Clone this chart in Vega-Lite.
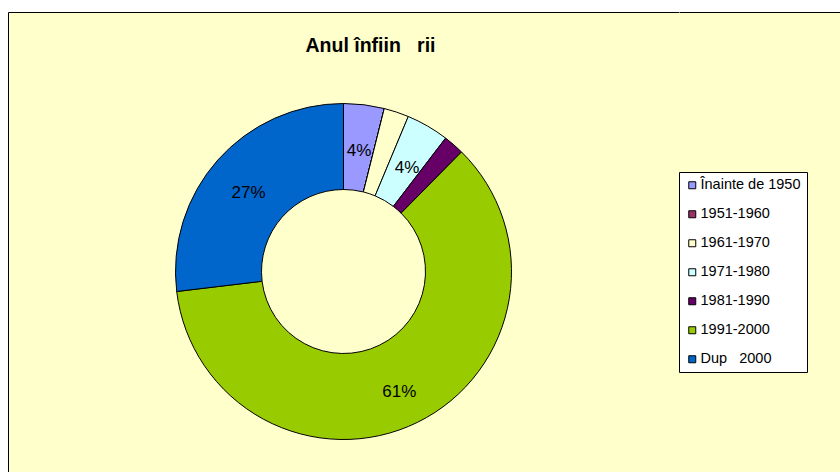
{
  "$schema": "https://vega.github.io/schema/vega-lite/v6.json",
  "background": "white",
  "padding": {"left": 7, "top": 12, "right": 0, "bottom": 0},
  "spacing": 0,
  "bounds": "flush",
  "config": {"font": "Liberation Sans", "view": {"fill": "#FFFFCC", "stroke": null}},
  "datasets": {
    "t": [
      {"perioada": "Înainte de 1950", "share": 0.039, "ord": 1},
      {"perioada": "1951-1960", "share": 0.0, "ord": 2},
      {"perioada": "1961-1970", "share": 0.024, "ord": 3},
      {"perioada": "1971-1980", "share": 0.041, "ord": 4},
      {"perioada": "1981-1990", "share": 0.020, "ord": 5},
      {"perioada": "1991-2000", "share": 0.607, "ord": 6},
      {"perioada": "Dup\u00a0\u00a0\u00a02000", "share": 0.269, "ord": 7}
    ]
  },
  "hconcat": [
    {
      "width": 671,
      "height": 519,
      "view": {"fill": "#FFFFCC", "stroke": null},
      "title": {"text": "Anul înfiin\u00a0\u00a0\u00a0rii", "anchor": "middle", "dx": 27, "offset": -44, "fontSize": 19.5, "fontWeight": "bold", "font": "Liberation Sans", "color": "black"},
      "data": {"name": "t"},
      "layer": [
        {
          "mark": {"type": "arc", "innerRadius": 82, "outerRadius": 168, "stroke": "black", "strokeWidth": 1},
          "encoding": {
            "theta": {"field": "share", "type": "quantitative", "stack": true},
            "order": {"field": "ord", "type": "quantitative"},
            "color": {
              "field": "perioada",
              "type": "nominal",
              "sort": ["Înainte de 1950", "1951-1960", "1961-1970", "1971-1980", "1981-1990", "1991-2000", "Dup\u00a0\u00a0\u00a02000"],
              "scale": {
                "domain": ["Înainte de 1950", "1951-1960", "1961-1970", "1971-1980", "1981-1990", "1991-2000", "Dup\u00a0\u00a0\u00a02000"],
                "range": ["#9999FF", "#993366", "#FFFFCC", "#CCFFFF", "#660066", "#99CC00", "#0066CC"]
              },
              "legend": {
                "orient": "none",
                "legendX": 671,
                "legendY": 160,
                "title": null,
                "symbolType": "square",
                "symbolSize": 49,
                "symbolStrokeColor": "black",
                "symbolStrokeWidth": 1,
                "symbolOpacity": 1,
                "labelFontSize": 14.5,
                "labelFont": "Liberation Sans",
                "labelColor": "black",
                "labelOffset": 1,
                "rowPadding": 14,
                "padding": 6,
                "fillColor": "white",
                "strokeColor": "black"
              }
            }
          }
        },
        {
          "mark": {"type": "text", "radius": 127, "dy": 6, "fontSize": 17, "font": "Liberation Sans", "color": "black"},
          "encoding": {
            "theta": {"field": "share", "type": "quantitative", "stack": true},
            "order": {"field": "ord", "type": "quantitative"},
            "text": {"condition": {"test": "datum.share >= 0.03", "field": "share", "format": ".0%"}, "value": ""}
          }
        },
        {
          "mark": {"type": "tick", "opacity": 0},
          "encoding": {
            "x": {"field": "share", "type": "quantitative", "axis": {"orient": "top", "domainColor": "black", "domainWidth": 1, "ticks": false, "labels": false, "grid": false, "title": null}},
            "y": {"field": "share", "type": "quantitative", "axis": {"orient": "left", "domainColor": "black", "domainWidth": 1, "ticks": false, "labels": false, "grid": false, "title": null}}
          }
        }
      ]
    },
    {
      "width": 163,
      "height": 519,
      "view": {"fill": "#FFFFCC", "stroke": null},
      "data": {"name": "t"},
      "mark": {"type": "tick", "opacity": 0},
      "encoding": {
        "x": {"field": "share", "type": "quantitative", "axis": {"orient": "top", "domainColor": "black", "domainWidth": 1, "ticks": false, "labels": false, "grid": false, "title": null}}
      }
    }
  ]
}
